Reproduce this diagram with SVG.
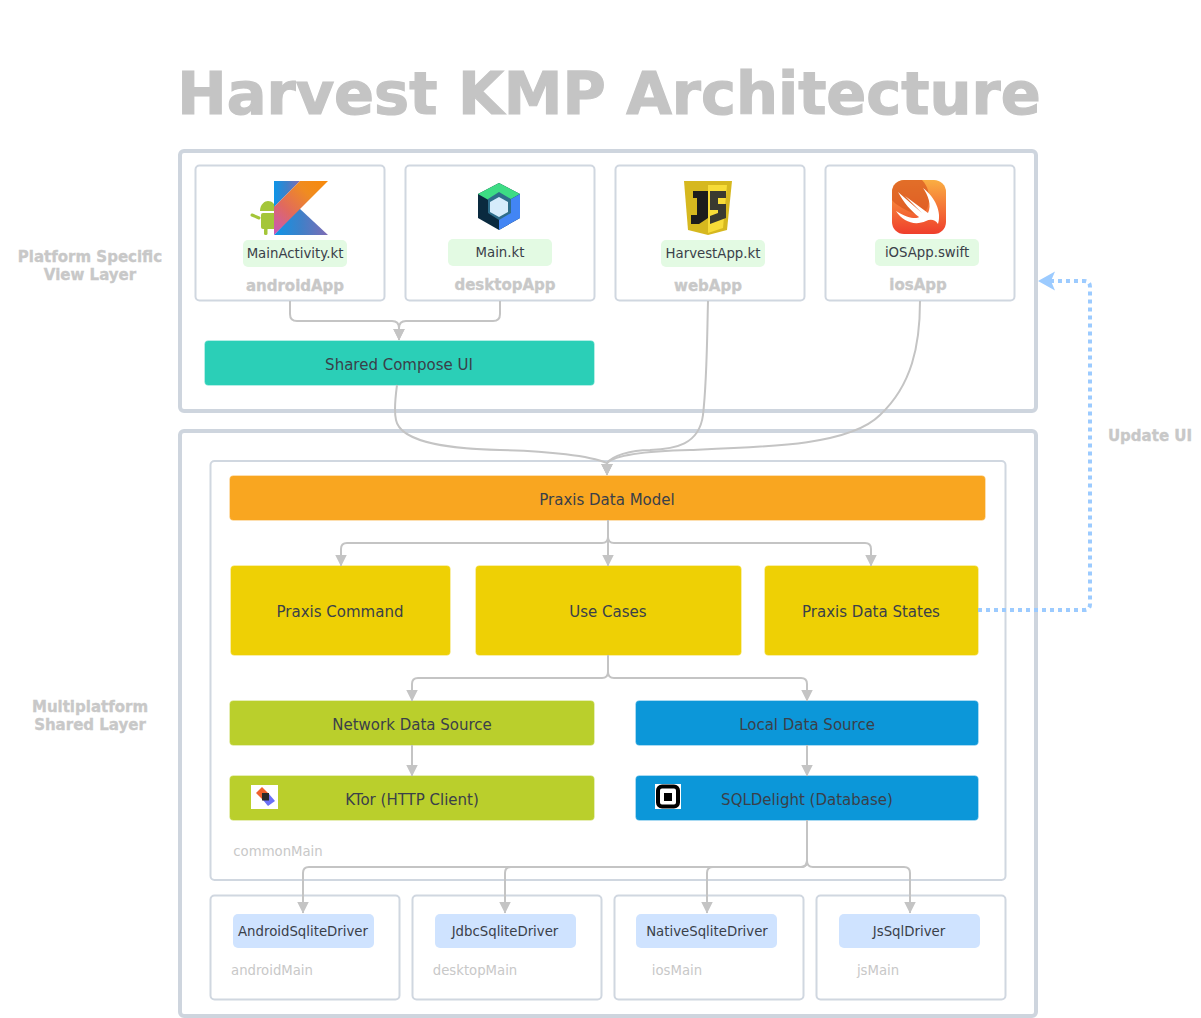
<svg xmlns="http://www.w3.org/2000/svg" width="1201" height="1018" viewBox="0 0 1201 1018">
<style>
text{font-family:"DejaVu Sans",Verdana,sans-serif;text-anchor:middle}
.outer{fill:#fff;stroke:#ced5de;stroke-width:4}
.box{fill:#fff;stroke:#d0d7e0;stroke-width:2}
.lbl{font-size:13.3px;fill:#3a4049}
.file{fill:#e3fae3}
.drv{fill:#cfe3ff}
.b16{font-size:15px;font-weight:bold;fill:#c8c8c8;stroke:#c8c8c8;stroke-width:.35}
.sub{font-size:13.25px;fill:#c8c8c8}
.n{font-size:15px;fill:#3a4049}
.nd{stroke:#fff;stroke-opacity:.3;stroke-width:1}
.c{fill:none;stroke:#c4c4c4;stroke-width:2}
</style>
<defs>
<marker id="a" markerUnits="userSpaceOnUse" markerWidth="12" markerHeight="12" refX="11.500" refY="6" orient="auto"><path d="M0,0L12,6L0,12Z" fill="#c4c4c4"/></marker>
<marker id="b" markerUnits="userSpaceOnUse" markerWidth="18" markerHeight="20" refX="17" refY="9.500" orient="auto"><path d="M0,0L17,9.500L0,19L4,9.500Z" fill="#9ccbff"/></marker>
<linearGradient id="k1" x1="0" y1="1" x2="1" y2="0"><stop offset="0" stop-color="#c757bc"/><stop offset=".35" stop-color="#e0695f"/><stop offset=".7" stop-color="#f08c20"/><stop offset="1" stop-color="#f88909"/></linearGradient>
<linearGradient id="k2" x1="0" y1="0" x2="1" y2="0"><stop offset="0" stop-color="#0d95e8"/><stop offset=".5" stop-color="#3f80c8"/><stop offset="1" stop-color="#7f6cb5"/></linearGradient>
<linearGradient id="sw" x1="0" y1="0" x2="0" y2="1"><stop offset="0" stop-color="#faae42"/><stop offset="1" stop-color="#ef3e2c"/></linearGradient>
</defs>
<rect width="1201" height="1018" fill="#fff"/>
<text id="title" x="609" y="114" style="font-size:59px;font-weight:bold;fill:#c4c4c4;stroke:#c4c4c4;stroke-width:1.200">Harvest KMP Architecture</text>
<text class="b16" x="90" y="262">Platform Specific</text>
<text class="b16" x="90" y="280">View Layer</text>
<text class="b16" x="90" y="712">Multiplatform</text>
<text class="b16" x="90" y="730">Shared Layer</text>
<g id="platformLayer"><rect class="outer" x="180" y="151" width="856" height="260" rx="4"/></g>
<g id="sharedLayer"><rect class="outer" x="180" y="431" width="856" height="585" rx="4"/></g>
<g id="commonMain"><rect class="box" x="210.500" y="461" width="795" height="419" rx="4"/><text class="sub" x="278" y="856">commonMain</text></g>
<g id="androidApp"><rect class="box" x="195.500" y="165.500" width="189" height="135" rx="4"/>
<path d="M260 211C260 204 265 201 268 201C272 201 276 204 276 211Z" fill="#a4c639"/><rect x="261" y="213" width="15" height="16" rx="2" fill="#a4c639"/><rect x="264" y="228" width="3.500" height="7" rx="1.500" fill="#a4c639"/><path d="M252 215L259 218" stroke="#a4c639" stroke-width="3" stroke-linecap="round"/>
<path d="M274 181H300L274 207Z" fill="url(#k2)"/><path d="M274 235L299 208L328 235Z" fill="url(#k2)"/><path d="M300 181H328L274 235V207Z" fill="url(#k1)"/>
<rect class="file" x="243" y="240" width="104" height="27" rx="5"/><text class="lbl" x="295" y="258">MainActivity.kt</text><text class="b16" x="295" y="291">androidApp</text></g>
<g id="desktopApp"><rect class="box" x="405.500" y="165.500" width="189" height="135" rx="4"/>
<path d="M478 194L499 183L520 194V218L499 230L478 218Z" fill="#0a2a3f"/><path d="M478 194L499 183L520 194L499 206Z" fill="#3ddc84"/><path d="M520 194V218L499 230V206Z" fill="#4285f4"/><path d="M499 192L511 199V213L499 220L488 213V199Z" fill="#2e6d8a"/><path d="M499 197L508 202V212L499 217L490 212V202Z" fill="#d6ecfb"/>
<rect class="file" x="448" y="239" width="104" height="27" rx="5"/><text class="lbl" x="500" y="257">Main.kt</text><text class="b16" x="505" y="290">desktopApp</text></g>
<g id="webApp"><rect class="box" x="615.500" y="165.500" width="189" height="135" rx="4"/>
<path d="M684 181H732L727 230L708 235L688 230Z" fill="#d6b81f"/><path d="M708 185H727L723 228L708 233Z" fill="#f7dc38"/><path d="M693 191H708V218L699 224H691V215H697V198H693Z" fill="#1c1c1c"/><path d="M710 191H726V198H718V204H726V218L710 224V216L718 213V210H710Z" fill="#3a3a30"/>
<rect class="file" x="661" y="240" width="104" height="27" rx="5"/><text class="lbl" x="713" y="258">HarvestApp.kt</text><text class="b16" x="708" y="291">webApp</text></g>
<g id="iosApp"><rect class="box" x="825.500" y="165.500" width="189" height="135" rx="4"/>
<rect x="892" y="180" width="54" height="54" rx="12" fill="url(#sw)"/><path d="M892 192a12 12 0 0 1 12-12H922C934 192 930 218 916 214C906 211 896 205 892 200Z" fill="#d95a20" opacity=".75"/>
<path d="M898 192L922 213L905 196L928 213C932 205 928 195 923 188C935 197 942 212 938 224C935 219 930 219 926 221C915 226 903 222 896 211C908 219 917 219 919 217C911 211 904 203 898 192Z" fill="#fff"/>
<rect class="file" x="875" y="239" width="104" height="27" rx="5"/><text class="lbl" x="927" y="257">iOSApp.swift</text><text class="b16" x="918" y="290">iosApp</text></g>
<g id="sharedComposeUI"><rect class="nd" x="204.500" y="340.500" width="390" height="45" rx="4" fill="#2bcfb7"/><text class="n" x="399" y="370">Shared Compose UI</text></g>
<g id="praxisDataModel"><rect class="nd" x="229.500" y="475.500" width="756" height="45" rx="4" fill="#f9a620"/><text class="n" x="607" y="505">Praxis Data Model</text></g>
<g id="praxisCommand"><rect class="nd" x="230.500" y="565.500" width="220" height="90" rx="4" fill="#eed005"/><text class="n" x="340" y="617">Praxis Command</text></g>
<g id="useCases"><rect class="nd" x="475.500" y="565.500" width="266" height="90" rx="4" fill="#eed005"/><text class="n" x="608" y="617">Use Cases</text></g>
<g id="praxisDataStates"><rect class="nd" x="764.500" y="565.500" width="214" height="90" rx="4" fill="#eed005"/><text class="n" x="871" y="617">Praxis Data States</text></g>
<g id="networkDataSource"><rect class="nd" x="229.500" y="700.500" width="365" height="45" rx="4" fill="#bacf2c"/><text class="n" x="412" y="730">Network Data Source</text></g>
<g id="localDataSource"><rect class="nd" x="635.500" y="700.500" width="343" height="45" rx="4" fill="#0c97d9"/><text class="n" x="807" y="730">Local Data Source</text></g>
<g id="ktor"><rect class="nd" x="229.500" y="775.500" width="365" height="45" rx="4" fill="#bacf2c"/><rect x="251" y="785" width="27" height="24" fill="#fff"/><path d="M256 793L262 787L269 794L263 800Z" fill="#f0612e"/><path d="M263 800L269 794L275 801L268 806Z" fill="#6a70f5"/><rect x="262" y="793" width="7" height="7.500" fill="#2a2a2a"/><text class="n" x="412" y="805">KTor (HTTP Client)</text></g>
<g id="sqlDelight"><rect class="nd" x="635.500" y="775.500" width="343" height="45" rx="4" fill="#0c97d9"/><rect x="655" y="784" width="26" height="25" fill="#fff"/><rect x="658" y="786.500" width="20" height="20" rx="4" fill="#fff" stroke="#000" stroke-width="4"/><rect x="664" y="793" width="8" height="8" fill="#000"/><text class="n" x="807" y="805">SQLDelight (Database)</text></g>
<g id="androidMain"><rect class="box" x="210.500" y="895.500" width="189" height="104" rx="4"/><rect class="drv" x="233" y="914" width="141" height="34" rx="5"/><text class="lbl" x="303" y="936">AndroidSqliteDriver</text><text class="sub" x="272" y="975">androidMain</text></g>
<g id="desktopMain"><rect class="box" x="412.500" y="895.500" width="189" height="104" rx="4"/><rect class="drv" x="435" y="914" width="141" height="34" rx="5"/><text class="lbl" x="505" y="936">JdbcSqliteDriver</text><text class="sub" x="475" y="975">desktopMain</text></g>
<g id="iosMain"><rect class="box" x="614.500" y="895.500" width="189" height="104" rx="4"/><rect class="drv" x="636" y="914" width="141" height="34" rx="5"/><text class="lbl" x="707" y="936">NativeSqliteDriver</text><text class="sub" x="677" y="975">iosMain</text></g>
<g id="jsMain"><rect class="box" x="816.500" y="895.500" width="189" height="104" rx="4"/><rect class="drv" x="839" y="914" width="141" height="34" rx="5"/><text class="lbl" x="909" y="936">JsSqlDriver</text><text class="sub" x="878" y="975">jsMain</text></g>
<g id="connectors">
<path class="c" marker-end="url(#a)" d="M290 301V314Q290 321 297 321H392Q399 321 399 328V340"/>
<path class="c" marker-end="url(#a)" d="M500 301V314Q500 321 493 321H406Q399 321 399 328V340"/>
<path class="c" marker-end="url(#a)" d="M397 385C395 400 394 412 396 420C401 445 460 449 500 450C550 451 590 456 607 463V475"/>
<path class="c" marker-end="url(#a)" d="M708 301C707 340 707 380 703 415C699 445 675 449 650 450C630 450 612 456 607 463V475"/>
<path class="c" marker-end="url(#a)" d="M920 301C920 345 912 385 880 415C850 445 770 447 690 450C650 451 615 455 607 463V475"/>
<path class="c" marker-end="url(#a)" d="M608 520V566"/>
<path class="c" marker-end="url(#a)" d="M608 520V537Q608 543 602 543H347Q341 543 341 549V566"/>
<path class="c" marker-end="url(#a)" d="M608 520V537Q608 543 614 543H865Q871 543 871 549V566"/>
<path class="c" marker-end="url(#a)" d="M608 655V672Q608 678 602 678H418Q412 678 412 684V701"/>
<path class="c" marker-end="url(#a)" d="M608 655V672Q608 678 614 678H801Q807 678 807 684V701"/>
<path class="c" marker-end="url(#a)" d="M412 745V776"/>
<path class="c" marker-end="url(#a)" d="M807 745V776"/>
<path class="c" marker-end="url(#a)" d="M807 820V861Q807 867 801 867H309Q303 867 303 873V913"/>
<path class="c" marker-end="url(#a)" d="M807 820V861Q807 867 801 867H511Q505 867 505 873V913"/>
<path class="c" marker-end="url(#a)" d="M807 820V861Q807 867 801 867H713Q707 867 707 873V913"/>
<path class="c" marker-end="url(#a)" d="M807 820V861Q807 867 813 867H904Q910 867 910 873V913"/>
<path d="M978 610H1084Q1090 610 1090 604V287Q1090 281 1084 281H1038" fill="none" stroke="#9ccbff" stroke-width="4" stroke-dasharray="4 4" marker-end="url(#b)"/>
</g>
<text id="updateUI" class="b16" x="1150" y="441">Update UI</text>
</svg>
